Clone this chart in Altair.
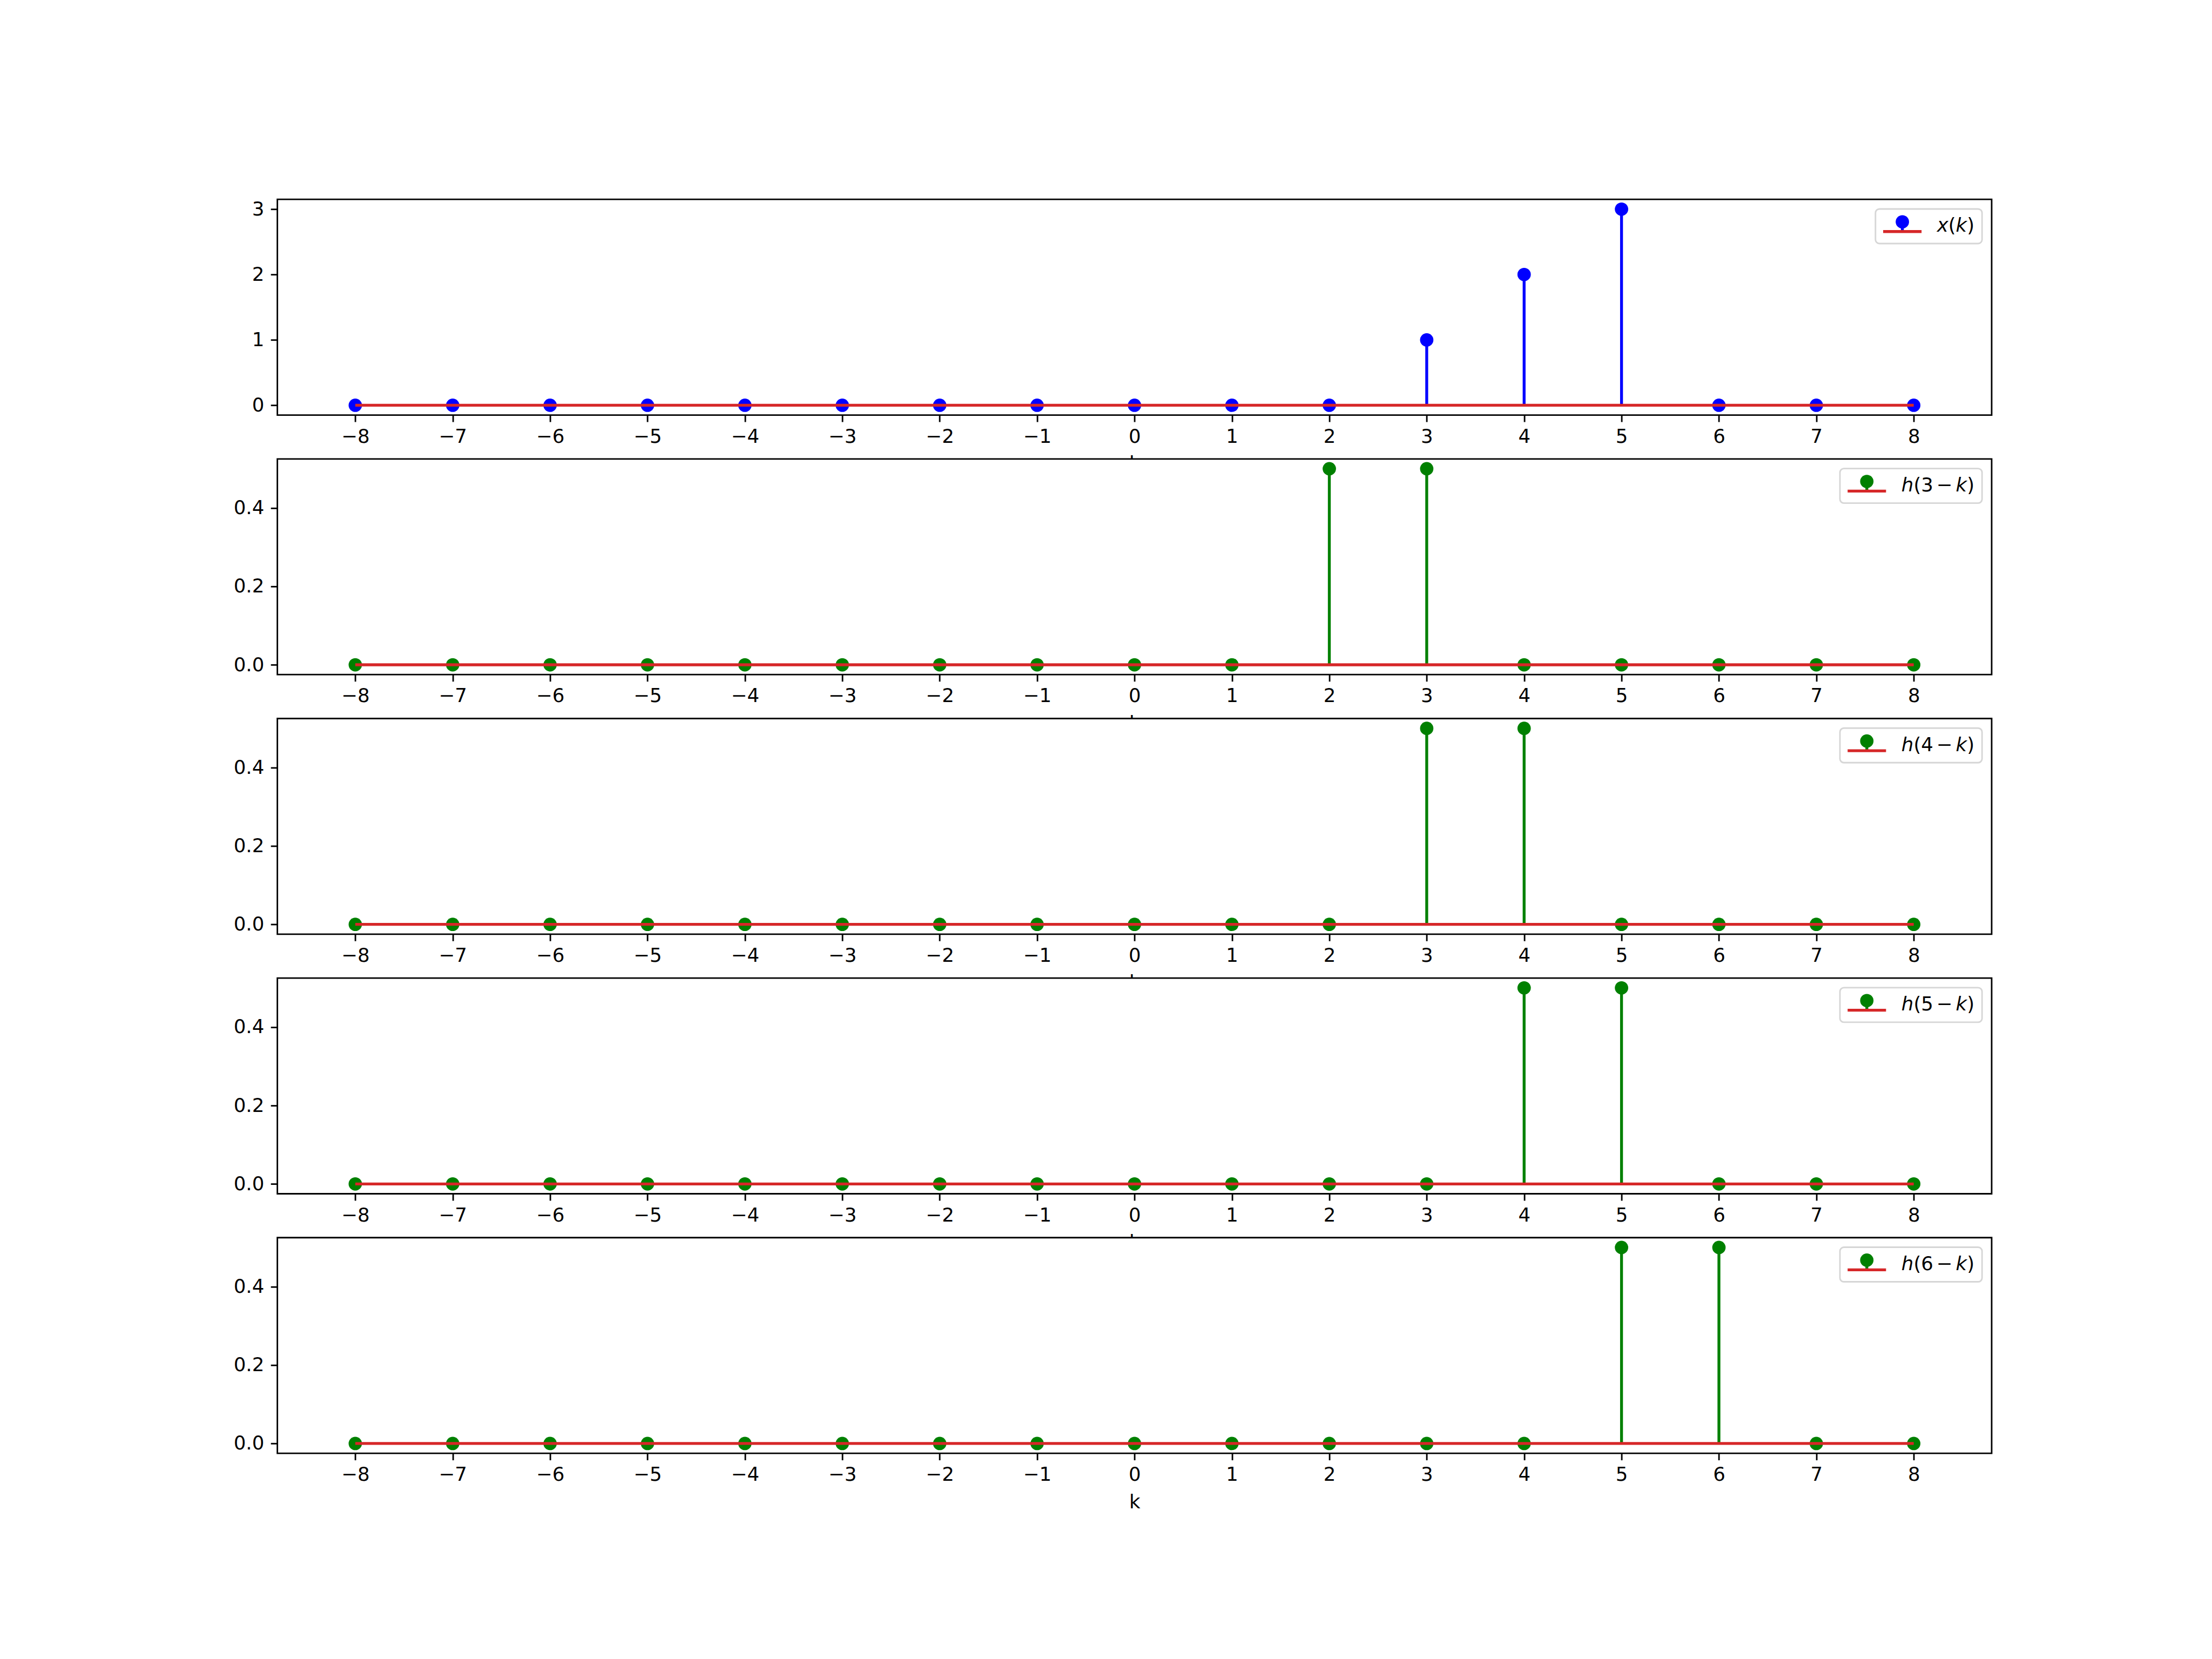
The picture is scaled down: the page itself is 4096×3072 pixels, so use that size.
import altair as alt
import pandas as pd

# ---- data ----
k_values = [-8, -7, -6, -5, -4, -3, -2, -1, 0, 1, 2, 3, 4, 5, 6, 7, 8]
x_values = [0, 0, 0, 0, 0, 0, 0, 0, 0, 0, 0, 1, 2, 3, 0, 0, 0]
h3_values = [0, 0, 0, 0, 0, 0, 0, 0, 0, 0, 0.5, 0.5, 0, 0, 0, 0, 0]
h4_values = [0, 0, 0, 0, 0, 0, 0, 0, 0, 0, 0, 0.5, 0.5, 0, 0, 0, 0]
h5_values = [0, 0, 0, 0, 0, 0, 0, 0, 0, 0, 0, 0, 0.5, 0.5, 0, 0, 0]
h6_values = [0, 0, 0, 0, 0, 0, 0, 0, 0, 0, 0, 0, 0, 0.5, 0.5, 0, 0]
x_ticks = [-8, -7, -6, -5, -4, -3, -2, -1, 0, 1, 2, 3, 4, 5, 6, 7, 8]
y_ticks_x = [0, 1, 2, 3]
y_ticks_h = [0, 0.2, 0.4]

# legend label pieces: (text, offset in em, italic)
label_x = [("x", 0.0, True), ("(", 0.592, False), ("k", 0.982, True), (")", 1.561, False)]
label_h3 = [("h", 0.0, True), ("(3", 0.634, False), ("−", 1.827, False), ("k", 2.832, True), (")", 3.411, False)]
label_h4 = [("h", 0.0, True), ("(4", 0.634, False), ("−", 1.827, False), ("k", 2.832, True), (")", 3.411, False)]
label_h5 = [("h", 0.0, True), ("(5", 0.634, False), ("−", 1.827, False), ("k", 2.832, True), (")", 3.411, False)]
label_h6 = [("h", 0.0, True), ("(6", 0.634, False), ("−", 1.827, False), ("k", 2.832, True), (")", 3.411, False)]
label_widths = {"x": 1.951, "h": 3.801}

# ---- sizes ----
S = 4096 / 4800
W = 3720 * S
H = 468 * S
GAP = 94.5 * S
FS = 41.667 * S
LW = 6.25 * S
LWAX = 3.333 * S
TICK = 14.583 * S
MSIZE = (29 * S) ** 2
RED = "#d62728"
FONT = "DejaVu Sans"


def panel(vals, color, ydom, yticks, yfmt, pieces, wkey):
    df = pd.DataFrame({"k": k_values, "v": vals})
    xscale = alt.Scale(domain=[-8.8, 8.8], nice=False, zero=False)
    yscale = alt.Scale(domain=ydom, nice=False, zero=False)
    xaxis = alt.Axis(values=x_ticks, title="k",
                     labelExpr="replace(datum.label, '-', '−')")
    yaxis = alt.Axis(values=yticks, format=yfmt, title=None)
    base = alt.Chart(df).transform_calculate(zero="0")
    X = alt.X("k:Q", scale=xscale, axis=xaxis)
    stems = base.mark_rule(color=color, strokeWidth=LW).encode(
        x=X, y=alt.Y("v:Q", scale=yscale, axis=yaxis), y2="zero:Q")
    pts = base.mark_circle(color=color, size=MSIZE, opacity=1).encode(
        x=X, y=alt.Y("v:Q", scale=yscale, axis=yaxis))
    bl = base.mark_line(color=RED, strokeWidth=LW).encode(
        x=X, y=alt.Y("zero:Q", scale=yscale, axis=yaxis))

    # legend
    one = alt.Chart(pd.DataFrame({"a": [0]}))
    pad = 20.83 * S
    bw = (3.6 + label_widths[wkey]) * FS
    R = W - pad
    L = R - bw
    T = pad
    B = T + 75 * S
    ly = T + 49 * S
    my = T + 28 * S
    mx = L + 1.4 * FS
    box = one.mark_rect(fill="white", fillOpacity=0.8, stroke="#d6d6d6",
                        strokeWidth=LWAX, cornerRadius=8.5 * S).encode(
        x=alt.value(L), x2=alt.value(R), y=alt.value(T), y2=alt.value(B))
    hstem = one.mark_rule(color=color, strokeWidth=LW).encode(
        x=alt.value(mx), y=alt.value(my), y2=alt.value(ly))
    hmark = one.mark_circle(color=color, size=MSIZE, opacity=1).encode(
        x=alt.value(mx), y=alt.value(my))
    hline = one.mark_rule(color=RED, strokeWidth=LW).encode(
        x=alt.value(L + 0.4 * FS), x2=alt.value(L + 2.4 * FS), y=alt.value(ly))
    texts = []
    tx0 = L + 3.2 * FS
    tby = T + 49.7 * S
    for txt, off, it in pieces:
        texts.append(one.mark_text(text=txt, align="left", baseline="alphabetic",
                                   font=FONT, fontSize=FS, color="black",
                                   fontStyle="italic" if it else "normal").encode(
            x=alt.value(tx0 + off * FS), y=alt.value(tby)))
    return alt.layer(stems, pts, bl, box, hstem, hmark, hline, *texts).properties(
        width=W, height=H)


panels = [
    panel(x_values, "#0000ff", [-0.15, 3.15], y_ticks_x, "d", label_x, "x"),
    panel(h3_values, "#008000", [-0.025, 0.525], y_ticks_h, ".1f", label_h3, "h"),
    panel(h4_values, "#008000", [-0.025, 0.525], y_ticks_h, ".1f", label_h4, "h"),
    panel(h5_values, "#008000", [-0.025, 0.525], y_ticks_h, ".1f", label_h5, "h"),
    panel(h6_values, "#008000", [-0.025, 0.525], y_ticks_h, ".1f", label_h6, "h"),
]

chart = alt.vconcat(*panels, spacing=GAP, bounds="flush").properties(
    padding={"left": 430.6, "top": 367.2, "right": 0, "bottom": 0},
    background="white",
).configure_view(
    fill="white", stroke="black", strokeWidth=LWAX
).configure_axis(
    domain=False, grid=False, tickSize=TICK, tickWidth=LWAX, tickColor="black",
    labelFont=FONT, labelFontSize=FS, labelColor="black", labelPadding=10.1,
    labelFlush=False, labelOverlap=False,
    titleFont=FONT, titleFontSize=FS, titleFontWeight="normal", titleColor="black",
    titlePadding=15,
).configure_axisY(labelPadding=12.4)

chart.save("out.html", embed_options={"renderer": "svg", "actions": False})
